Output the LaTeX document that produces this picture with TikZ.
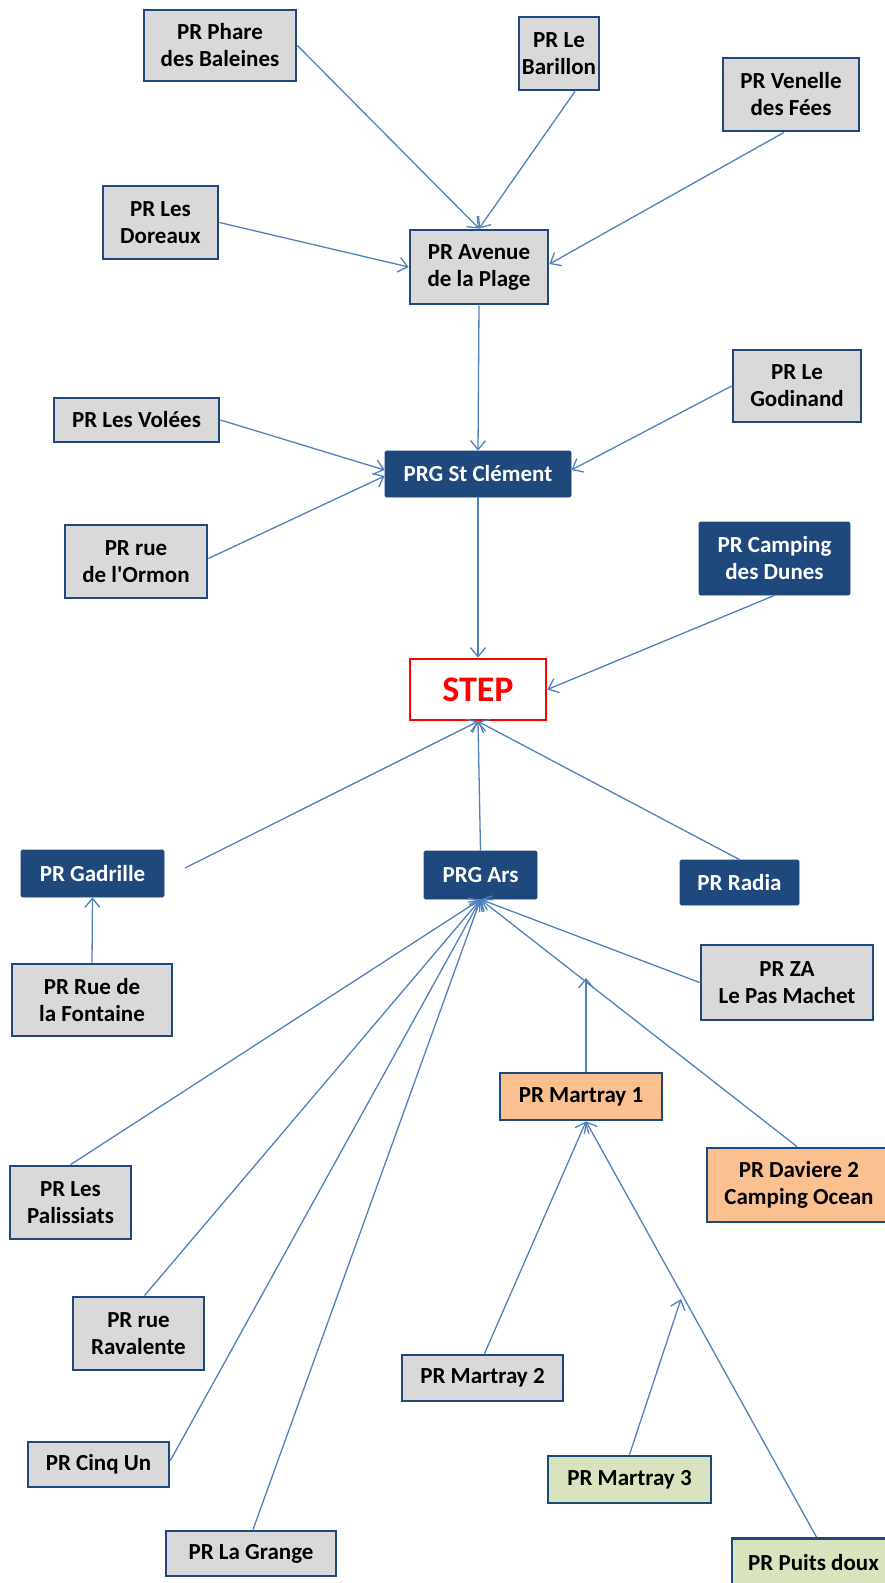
\documentclass[tikz,border=0pt]{standalone}
\usepackage{fontspec}
\setmainfont{Carlito}
\usetikzlibrary{arrows.meta}
\definecolor{dkblue}{HTML}{1F497D}
\definecolor{lnblue}{HTML}{4F81BD}
\definecolor{grayfill}{HTML}{D9D9D9}
\definecolor{orangefill}{HTML}{FAC090}
\definecolor{greenfill}{HTML}{D7E4BD}
\tikzset{
  basebox/.style={rectangle, inner sep=0pt, align=center, font=\bfseries\fontsize{23}{27}\selectfont},
  graybox/.style={basebox, draw=dkblue, line width=2.8pt, fill=grayfill, text=black},
  orangebox/.style={basebox, draw=dkblue, line width=2.8pt, fill=orangefill, text=black},
  greenbox/.style={basebox, draw=dkblue, line width=2.8pt, fill=greenfill, text=black},
  darkbox/.style={basebox, draw=dkblue, line width=0.8pt, fill=dkblue, text=white, rounded corners=1.5pt},
  stepbox/.style={rectangle, draw=red, line width=2.8pt, fill=white, text=red, font=\bfseries\fontsize{36}{42}\selectfont},
  conn/.style={draw=lnblue, line width=1.3pt, -{Straight Barb[length=9pt,width=15pt]}},
  sz/.style n args={2}{minimum width=#1pt, minimum height=#2pt}
}
\begin{document}
\begin{tikzpicture}[x=1pt,y=1pt]
\useasboundingbox (0,0) rectangle (885,-1583);
% nodes
\node[graybox, sz={152}{71}] (phare) at (220,-45.5) {PR Phare\\des Baleines};
\node[graybox, sz={80}{73}] (barillon) at (559,-53.5) {PR Le\\Barillon};
\node[graybox, sz={136}{73}] (venelle) at (791,-94.5) {PR Venelle\\des Fées};
\node[graybox, sz={115}{73}] (doreaux) at (160.5,-222.5) {PR Les\\Doreaux};
\node[graybox, sz={138}{74}] (avenue) at (479,-267) {PR Avenue\\de la Plage};
\node[graybox, sz={128}{72}] (godinand) at (797,-386) {PR Le\\Godinand};
\node[graybox, sz={165}{44}] (volees) at (136.5,-420) {PR Les Volées};
\node[darkbox, sz={186}{46}] (stclement) at (478,-474) {PRG St Clément};
\node[graybox, sz={142}{73}] (ormon) at (136,-561.5) {PR rue\\de l\textquotesingle Ormon};
\node[darkbox, sz={151}{73}] (dunes) at (774.5,-558.5) {PR Camping\\des Dunes};
\node[stepbox, sz={136}{61}] (step) at (478,-689.5) {STEP};
\node[darkbox, sz={143}{47}] (gadrille) at (92.5,-873.5) {PR Gadrille};
\node[darkbox, sz={113}{48}] (ars) at (480.5,-875) {PRG Ars};
\node[darkbox, sz={119}{45}] (radia) at (739.5,-882.5) {PR Radia};
\node[graybox, sz={160}{72}] (fontaine) at (92,-1000) {PR Rue de\\la Fontaine};
\node[graybox, sz={172}{75}] (za) at (787,-982.5) {PR ZA\\Le Pas Machet};
\node[orangebox, sz={162}{47}] (martray1) at (581,-1096.5) {PR Martray 1};
\node[orangebox, sz={184}{74}] (daviere) at (799,-1185) {PR Daviere 2\\Camping Ocean};
\node[graybox, sz={121}{73}] (palissiats) at (70.5,-1202.5) {PR Les\\Palissiats};
\node[graybox, sz={131}{73}] (ravalente) at (138.5,-1333.5) {PR rue\\Ravalente};
\node[graybox, sz={161}{46}] (martray2) at (482.5,-1378) {PR Martray 2};
\node[graybox, sz={141}{45}] (cinqun) at (98.5,-1464.5) {PR Cinq Un};
\node[greenbox, sz={163}{47}] (martray3) at (629.5,-1479.5) {PR Martray 3};
\node[graybox, sz={170}{45}] (grange) at (251,-1553.5) {PR La Grange};
\node[greenbox, sz={163}{47}] (puits) at (813.5,-1562) {PR Puits doux};
% free ends
\coordinate (gadfree) at (185,-868);
\coordinate (m1free) at (586,-978);
\coordinate (m3free) at (681,-1299);
% connectors
\draw[conn] (phare.east) -- (avenue.north);
\draw[conn] ([xshift=16pt]barillon.south) -- (avenue.north);
\draw[conn] ([xshift=-7pt]venelle.south) -- ([yshift=3pt]avenue.east);
\draw[conn] (doreaux.east) -- (avenue.west);
\draw[conn] (avenue.south) -- (stclement.north);
\draw[conn] (volees.east) -- ([yshift=4pt]stclement.west);
\draw[conn] ([yshift=3pt]ormon.east) -- ([yshift=-2pt]stclement.west);
\draw[conn] (godinand.west) -- ([yshift=4pt]stclement.east);
\draw[conn] (stclement.south) -- (step.north);
\draw[conn] (dunes.south) -- (step.east);
\draw[conn] (gadfree) -- (step.south);
\draw[conn] (ars.north) -- (step.south);
\draw[conn] (radia.north) -- (step.south);
\draw[conn] (fontaine.north) -- (gadrille.south);
\draw[conn] (za.west) -- (ars.south);
\draw[conn] ([xshift=5pt]martray1.north) -- (m1free);
\draw[conn] ([xshift=-2pt]daviere.north) -- (ars.south);
\draw[conn] (palissiats.north) -- (ars.south);
\draw[conn] ([xshift=6pt]ravalente.north) -- (ars.south);
\draw[conn] ([yshift=4pt]cinqun.east) -- (ars.south);
\draw[conn] ([xshift=2pt]grange.north) -- (ars.south);
\draw[conn] ([xshift=2pt]martray2.north) -- ([xshift=5pt]martray1.south);
\draw[conn] ([xshift=3pt]puits.north) -- ([xshift=5pt]martray1.south);
\draw[conn] (martray3.north) -- (m3free);
\end{tikzpicture}
\end{document}
